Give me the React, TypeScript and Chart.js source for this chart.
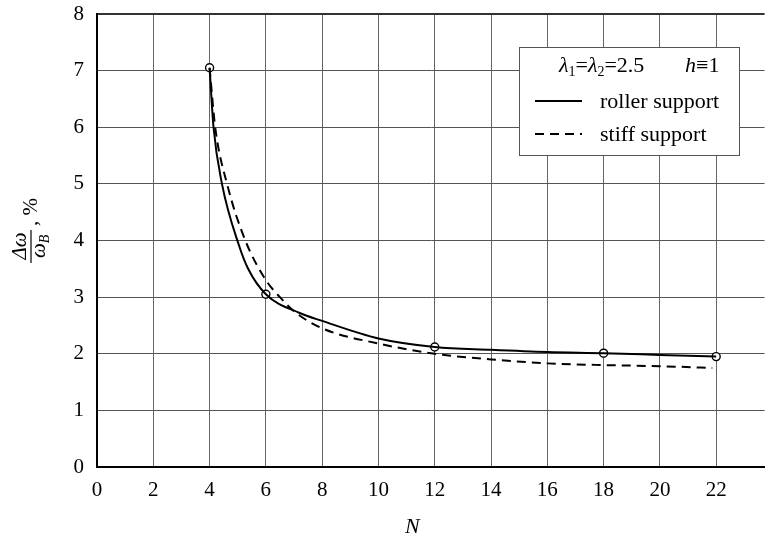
import React, { useEffect, useRef } from "react";
import { Chart, registerables } from "chart.js";

Chart.register(...registerables);

const X_TICKS = [0, 2, 4, 6, 8, 10, 12, 14, 16, 18, 20, 22];
const Y_TICKS = [0, 1, 2, 3, 4, 5, 6, 7, 8];

const MARKER_N = [4, 6, 12, 18, 22];
const MARKER_VALUES = [7.05, 3.05, 2.12, 2.01, 1.95];

const ROLLER_N = [4, 4.14, 4.44, 5.04, 5.37, 6, 7.2, 8, 10, 12, 14, 16, 18, 20, 22];
const ROLLER_VALUES = [7.05, 6.0, 5.0, 3.92, 3.5, 3.05, 2.72, 2.58, 2.27, 2.12, 2.07, 2.03, 2.01, 1.98, 1.95];

const STIFF_N = [4, 4.2, 4.62, 5.27, 6, 6.5, 7, 8, 10, 12, 14, 16, 18, 20, 21.86];
const STIFF_VALUES = [7.05, 6.0, 5.0, 4.0, 3.3, 3.0, 2.75, 2.45, 2.18, 2.0, 1.9, 1.83, 1.8, 1.78, 1.75];

const SERIF = "'Liberation Serif', 'Times New Roman', serif";

type Run = { text: string; font: string; dy?: number };

function drawRuns(ctx: CanvasRenderingContext2D, runs: Run[], x: number, y: number) {
  let cx = x;
  for (const r of runs) {
    ctx.font = r.font;
    ctx.fillText(r.text, cx, y + (r.dy || 0));
    cx += ctx.measureText(r.text).width;
  }
  return cx;
}

const annotations = {
  id: "annotations",
  afterDraw(chart: any) {
    const ctx: CanvasRenderingContext2D = chart.ctx;
    const xs = chart.scales.x;
    ctx.save();
    ctx.fillStyle = "#000";
    ctx.textAlign = "left";
    ctx.textBaseline = "alphabetic";

    // x axis title
    ctx.font = `italic 22px ${SERIF}`;
    ctx.textAlign = "center";
    ctx.fillText("N", xs.getPixelForValue(11.2), 533);
    ctx.textAlign = "left";

    // y axis title (rotated fraction)
    ctx.save();
    ctx.translate(31, 247);
    ctx.rotate(-Math.PI / 2);
    const it = `italic 21px ${SERIF}`;
    ctx.font = it;
    const numW = ctx.measureText("\u0394\u03c9").width;
    ctx.fillText("\u0394\u03c9", -numW / 2 + 1, -5);
    ctx.strokeStyle = "#000";
    ctx.lineWidth = 1.2;
    ctx.beginPath();
    ctx.moveTo(-16, 0);
    ctx.lineTo(17, 0);
    ctx.stroke();
    drawRuns(ctx, [
      { text: "\u03c9", font: it },
      { text: "B", font: `italic 14px ${SERIF}`, dy: 4 },
    ], -11, 14);
    drawRuns(ctx, [{ text: ", %", font: `21px ${SERIF}` }], 21, 6);
    ctx.restore();

    // legend box
    const bx = 519, by = 47, bw = 220, bh = 108;
    ctx.fillStyle = "#fff";
    ctx.fillRect(bx, by, bw, bh);
    ctx.strokeStyle = "#555";
    ctx.lineWidth = 1;
    ctx.strokeRect(bx + 0.5, by + 0.5, bw, bh);
    ctx.fillStyle = "#000";
    const itl = `italic 22px ${SERIF}`;
    const reg = `22px ${SERIF}`;
    const sub = `14px ${SERIF}`;
    drawRuns(ctx, [
      { text: "\u03bb", font: itl },
      { text: "1", font: sub, dy: 4 },
      { text: "=", font: reg },
      { text: "\u03bb", font: itl },
      { text: "2", font: sub, dy: 4 },
      { text: "=2.5", font: reg },
    ], 559, 72);
    drawRuns(ctx, [
      { text: "h", font: itl },
      { text: "\u2261", font: reg },
      { text: "1", font: reg },
    ], 685, 72);

    ctx.strokeStyle = "#000";
    ctx.lineWidth = 2;
    ctx.beginPath();
    ctx.moveTo(535, 101);
    ctx.lineTo(582, 101);
    ctx.stroke();
    ctx.setLineDash([9, 6]);
    ctx.beginPath();
    ctx.moveTo(535, 134);
    ctx.lineTo(582, 134);
    ctx.stroke();
    ctx.setLineDash([]);
    ctx.font = reg;
    ctx.fillText("roller support", 600, 108);
    ctx.fillText("stiff support", 600, 141);

    ctx.restore();
  },
};

export default function App() {
  const ref = useRef<HTMLCanvasElement | null>(null);

  useEffect(() => {
    if (!ref.current) return;
    const chart = new Chart(ref.current, {
      type: "line",
      data: {
        datasets: [
          {
            label: "roller support",
            data: ROLLER_N.map((n, i) => ({ x: n, y: ROLLER_VALUES[i] })),
            borderColor: "#000",
            borderWidth: 2,
            pointRadius: 0,
            cubicInterpolationMode: "monotone",
            fill: false,
          },
          {
            label: "stiff support",
            data: STIFF_N.map((n, i) => ({ x: n, y: STIFF_VALUES[i] })),
            borderColor: "#000",
            borderWidth: 2,
            borderDash: [9, 6],
            pointRadius: 0,
            cubicInterpolationMode: "monotone",
            fill: false,
          },
          {
            label: "markers",
            data: MARKER_N.map((n, i) => ({ x: n, y: MARKER_VALUES[i] })),
            showLine: false,
            pointRadius: 4,
            pointBackgroundColor: "#fff",
            pointBorderColor: "#000",
            pointBorderWidth: 1.4,
          },
        ],
      } as any,
      options: {
        responsive: false,
        animation: false,
        events: [],
        layout: { padding: { top: 14, right: 0, left: 0, bottom: 0 } },
        plugins: { legend: { display: false }, tooltip: { enabled: false } },
        scales: {
          x: {
            type: "linear",
            min: 0,
            max: 23.72,
            afterBuildTicks: (axis: any) => {
              axis.ticks = X_TICKS.map((v) => ({ value: v }));
            },
            afterFit: (s: any) => {
              s.height = 71;
            },
            ticks: {
              color: "#000",
              font: { family: SERIF, size: 21 },
              padding: 11,
              maxRotation: 0,
            },
            grid: { color: "#666", lineWidth: 1, drawTicks: false },
            border: { color: "#000", width: 2 },
          },
          y: {
            type: "linear",
            min: 0,
            max: 8,
            afterBuildTicks: (axis: any) => {
              axis.ticks = Y_TICKS.map((v) => ({ value: v }));
            },
            afterFit: (s: any) => {
              s.width = 97;
              s.paddingTop = 0;
              s.paddingBottom = 0;
            },
            ticks: {
              color: "#000",
              font: { family: SERIF, size: 21, lineHeight: 1 },
              padding: 13,
            },
            grid: {
              color: (c: any) => (c.tick && c.tick.value === 8 ? "#333" : "#555"),
              lineWidth: (c: any) => (c.tick && c.tick.value === 8 ? 2 : 1),
              drawTicks: false,
            },
            border: { color: "#000", width: 2 },
          },
        },
      } as any,
      plugins: [annotations],
    });
    return () => chart.destroy();
  }, []);

  return (
    <div style={{ position: "fixed", left: 0, top: 0, width: 765, height: 538, overflow: "hidden", background: "#fff" }}>
      <canvas ref={ref} width={770} height={538} style={{ display: "block", width: 770, height: 538 }} />
    </div>
  );
}
